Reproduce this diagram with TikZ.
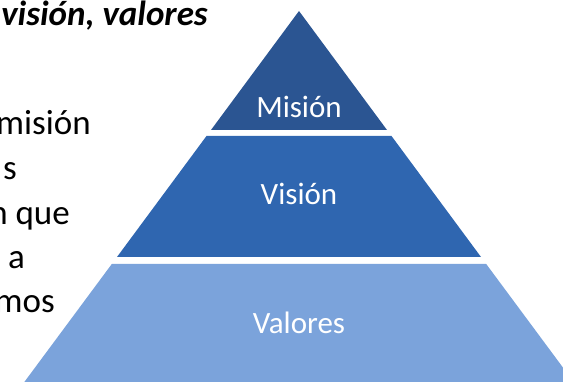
\documentclass[tikz,border=0pt]{standalone}
\usepackage{fontspec}
\setmainfont{Carlito}
\definecolor{mision}{HTML}{2B5592}
\definecolor{vision}{HTML}{2F66B0}
\definecolor{valores}{HTML}{7BA3DB}
\newcommand{\labelfont}{\fontsize{31}{37}\selectfont}
\newcommand{\bodyfont}{\fontsize{35}{42}\selectfont}
\newcommand{\titlefont}{\fontsize{35}{42}\selectfont\bfseries\itshape}
\begin{document}
\begin{tikzpicture}[x=1pt,y=-1pt,
  layerlabel/.style={text=white,inner sep=0pt,anchor=base},
  bodytext/.style={text=black,inner sep=0pt,anchor=base east}]
\useasboundingbox (0,0) rectangle (563,382);
\clip (0,0) rectangle (563,382);
% pyramid layers
\fill[mision] (299,11) -- (387,130) -- (211,130) -- cycle;
\fill[vision] (206.5,136) -- (391.5,136) -- (481,257) -- (117,257) -- cycle;
\fill[valores] (111.8,264) -- (486.2,264) -- (587,400) -- (11,400) -- cycle;
% labels
\node[layerlabel] (lmision) at (299,118) {\labelfont Misión};
\node[layerlabel] (lvision) at (299,205) {\labelfont Visión};
\node[layerlabel] (lvalores) at (299,334) {\labelfont Valores};
% title and body text (cropped at the left edge)
\node[anchor=base east,inner sep=0pt] (title) at (208,26) {\titlefont visión, valores};
\node[bodytext] (t1) at (91,135) {\bodyfont misión};
\node[bodytext] (t2) at (17,180) {\bodyfont s};
\node[bodytext] (t3) at (70,225) {\bodyfont n que};
\node[bodytext] (t4) at (25,269) {\bodyfont a};
\node[bodytext] (t5) at (55,313) {\bodyfont mos};
\end{tikzpicture}
\end{document}
